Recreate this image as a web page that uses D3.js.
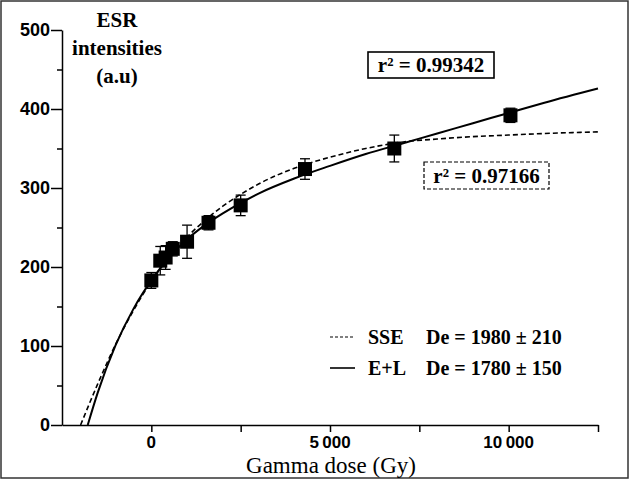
<!DOCTYPE html>
<html>
<head>
<meta charset="utf-8">
<script src="https://cdn.jsdelivr.net/npm/d3@7"></script>
<style>
  body { margin: 0; background: #fff; }
  svg { display: block; }
</style>
</head>
<body>
<div id="chart"></div>
<script>
// measured points
const doseValues = [0, 250, 400, 600, 1000, 1600, 2500, 4300, 6800, 10050]
const esrValues = [183, 208, 212, 223, 232, 256, 278, 324, 350, 392]
const esrErrors = [10, 18, 15, 9, 21, 9, 13, 13, 17, 9]

// fitted curves
const sseDose = [-1980, -1500, -1000, -500, 0, 500, 1000, 1500, 2000, 2500, 3000, 4000, 5000, 6000, 7000, 8000, 9000, 10000, 11000, 12500]
const sseEsr = [0, 52, 102, 145, 182, 213, 238, 259, 277, 292, 305, 325, 339, 350, 358, 362, 365, 367, 369, 371]
const elDose = [-1780, -1500, -1000, -500, 0, 500, 1000, 1500, 2000, 3000, 4000, 5000, 6000, 7000, 8000, 9000, 10000, 11000, 12500]
const elEsr = [0, 41, 101, 147, 183, 212, 235, 253, 268, 293, 312, 328, 343, 356, 369, 382, 395, 408, 426]

const xTicks = [-2500, 0, 2500, 5000, 7500, 10000, 12500]
const xLabels = [0, 5000, 10000]
const yTicks = [0, 50, 100, 150, 200, 250, 300, 350, 400, 450, 500]
const yLabels = [0, 100, 200, 300, 400, 500]

const legendNames = ['SSE', 'E+L']
const legendDe = ['De = 1980 \u00b1 210', 'De = 1780 \u00b1 150']
const rSquared = ['0.99342', '0.97166']

const width = 630
const height = 480
const serif = '"Liberation Serif", "Times New Roman", serif'
const sans = '"Liberation Sans", Arial, sans-serif'

const x = d3.scaleLinear().domain([-2500, 12500]).range([62, 598])
const y = d3.scaleLinear().domain([0, 500]).range([425, 30])

const fmt = d3.formatLocale({ decimal: '.', thousands: '\u2009', grouping: [3], currency: ['', ''] }).format(',')

const svg = d3.select('#chart')
  .append('svg')
  .attr('width', width)
  .attr('height', height)

svg.append('rect')
  .attr('x', 1).attr('y', 1)
  .attr('width', width - 3).attr('height', height - 3)
  .attr('fill', '#fff')
  .attr('stroke', '#333')
  .attr('stroke-width', 1.5)

// y axis
const yAxis = svg.append('g')
  .attr('transform', `translate(${x(-2500)},0)`)
  .call(d3.axisLeft(y).tickValues(yTicks).tickSize(0).tickFormat(''))
yAxis.select('.domain').attr('stroke', '#000').attr('stroke-width', 1.5)
yAxis.selectAll('.tick line')
  .attr('x2', d => yLabels.includes(d) ? -11 : -5)
  .attr('stroke', '#000')
  .attr('stroke-width', 1.5)

svg.append('g')
  .selectAll('text')
  .data(yLabels)
  .join('text')
  .attr('x', x(-2500) - 12)
  .attr('y', d => y(d))
  .attr('dy', '0.36em')
  .attr('text-anchor', 'end')
  .style('font-family', sans)
  .style('font-weight', 'bold')
  .style('font-size', '18px')
  .text(d => d)

// x axis
const xAxis = svg.append('g')
  .attr('transform', `translate(0,${y(0)})`)
  .call(d3.axisBottom(x).tickValues(xTicks.slice(1)).tickSize(0).tickFormat(''))
xAxis.select('.domain').attr('stroke', '#000').attr('stroke-width', 1.5)
xAxis.selectAll('.tick line')
  .attr('y2', 7)
  .attr('stroke', '#000')
  .attr('stroke-width', 1.5)

svg.append('g')
  .selectAll('text')
  .data(xLabels)
  .join('text')
  .attr('x', d => x(d))
  .attr('y', y(0) + 23)
  .attr('text-anchor', 'middle')
  .style('font-family', sans)
  .style('font-weight', 'bold')
  .style('font-size', '17px')
  .text(d => fmt(d))

svg.append('text')
  .attr('x', 331)
  .attr('y', 473)
  .attr('text-anchor', 'middle')
  .style('font-family', serif)
  .style('font-size', '23px')
  .text('Gamma dose (Gy)')

const yTitle = svg.append('text')
  .attr('text-anchor', 'middle')
  .style('font-family', serif)
  .style('font-weight', 'bold')
  .style('font-size', '21px')
;['ESR', 'intensities', '(a.u)'].forEach((t, i) => {
  yTitle.append('tspan').attr('x', 117).attr('y', 27 + i * 28).text(t)
})

// curves
const sseLine = d3.line()
  .x((d, i) => x(sseDose[i]))
  .y(d => y(d))
  .curve(d3.curveMonotoneX)
const elLine = d3.line()
  .x((d, i) => x(elDose[i]))
  .y(d => y(d))
  .curve(d3.curveMonotoneX)

svg.append('path')
  .attr('d', sseLine(sseEsr))
  .attr('fill', 'none')
  .attr('stroke', '#000')
  .attr('stroke-width', 1.6)
  .attr('stroke-dasharray', '5,3')

svg.append('path')
  .attr('d', elLine(elEsr))
  .attr('fill', 'none')
  .attr('stroke', '#000')
  .attr('stroke-width', 2)

// error bars + squares
const points = doseValues.map((d, i) => ({ dose: d, esr: esrValues[i], err: esrErrors[i] }))
const pts = svg.append('g')
  .selectAll('g')
  .data(points)
  .join('g')

pts.append('line')
  .attr('x1', d => x(d.dose)).attr('x2', d => x(d.dose))
  .attr('y1', d => y(d.esr - d.err)).attr('y2', d => y(d.esr + d.err))
  .attr('stroke', '#000').attr('stroke-width', 1.3)
;[-1, 1].forEach(s => {
  pts.append('line')
    .attr('x1', d => x(d.dose) - 5).attr('x2', d => x(d.dose) + 5)
    .attr('y1', d => y(d.esr + s * d.err)).attr('y2', d => y(d.esr + s * d.err))
    .attr('stroke', '#000').attr('stroke-width', 1.3)
})
pts.append('rect')
  .attr('x', d => x(d.dose) - 7)
  .attr('y', d => y(d.esr) - 7)
  .attr('width', 14)
  .attr('height', 14)
  .attr('fill', '#000')

// r squared boxes
const boxes = [
  { x: 368, y: 52, w: 126, h: 26, dash: null, text: rSquared[0] },
  { x: 424, y: 162, w: 125, h: 27, dash: '4,2', text: rSquared[1] }
]
boxes.forEach(b => {
  svg.append('rect')
    .attr('x', b.x).attr('y', b.y)
    .attr('width', b.w).attr('height', b.h)
    .attr('fill', '#fff')
    .attr('stroke', '#000')
    .attr('stroke-width', b.dash ? 1.2 : 1.6)
    .attr('stroke-dasharray', b.dash)
  svg.append('text')
    .attr('x', b.x + b.w / 2)
    .attr('y', b.y + b.h / 2)
    .attr('dy', '0.35em')
    .attr('text-anchor', 'middle')
    .style('font-family', serif)
    .style('font-weight', 'bold')
    .style('font-size', '21px')
    .text('r\u00b2 = ' + b.text)
})

// legend
const legend = svg.append('g')
legendNames.forEach((name, i) => {
  const ly = 337 + i * 31
  legend.append('line')
    .attr('x1', 330).attr('x2', 355)
    .attr('y1', ly).attr('y2', ly)
    .attr('stroke', '#000')
    .attr('stroke-width', i === 0 ? 1.2 : 1.6)
    .attr('stroke-dasharray', i === 0 ? '3,2' : null)
  legend.append('text')
    .attr('x', 368).attr('y', ly).attr('dy', '0.35em')
    .style('font-family', serif).style('font-weight', 'bold').style('font-size', '20px')
    .text(name)
  legend.append('text')
    .attr('x', 426).attr('y', ly).attr('dy', '0.35em')
    .style('font-family', serif).style('font-weight', 'bold').style('font-size', '20px')
    .text(legendDe[i])
})
</script>
</body>
</html>
